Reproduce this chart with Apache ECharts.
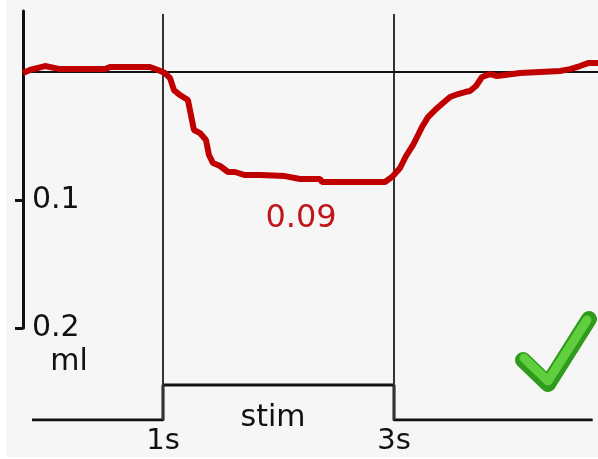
<!DOCTYPE html>
<html>
<head>
<meta charset="utf-8">
<script src="https://cdn.jsdelivr.net/npm/echarts@6/dist/echarts.min.js"></script>
<style>
html,body{margin:0;padding:0;background:#ffffff;}
#c{width:598px;height:459px;}
</style>
</head>
<body>
<div id="c"></div>
<script>
// time (s) and volume change (ml, positive = downward)
var times = [-0.212,-0.152,-0.022,0.108,0.498,0.541,0.887,0.957,1.017,1.061,1.095,1.147,1.216,1.242,1.268,1.320,1.372,1.398,1.433,1.494,1.563,1.623,1.710,1.840,2.056,2.186,2.359,2.377,2.922,2.991,3.052,3.104,3.165,3.208,3.242,3.294,3.355,3.424,3.485,3.554,3.615,3.658,3.710,3.762,3.831,3.892,3.961,4.091,4.264,4.437,4.524,4.610,4.680,4.766];
var volumes = [0.0008,-0.0016,-0.0047,-0.0023,-0.0023,-0.0039,-0.0039,-0.0016,0.0008,0.0047,0.0141,0.0180,0.0219,0.0336,0.0453,0.0477,0.0531,0.0648,0.0711,0.0734,0.0781,0.0781,0.0805,0.0805,0.0813,0.0836,0.0836,0.0859,0.0859,0.0813,0.0750,0.0656,0.0570,0.0492,0.0430,0.0352,0.0297,0.0242,0.0195,0.0172,0.0156,0.0148,0.0109,0.0039,0.0016,0.0031,0.0023,0.0008,0,-0.0008,-0.0023,-0.0047,-0.0070,-0.0070];
var stimTimes = [-0.134, 1, 1, 3, 3, 4.72];
var stimLevels = [0, 0, 1, 1, 0, 0];
var stimMarks = [1, 3];
var yTickValues = [0.1, 0.2];
var peakLabel = '0.09';
var unitLabel = 'ml';
var stimLabel = 'stim';

var FONT = 'DejaVu Sans';
var chart = echarts.init(document.getElementById('c'), null, {renderer: 'canvas'});

var redData = times.map(function (t, i) { return [t, volumes[i]]; });
var stimData = stimTimes.map(function (t, i) { return [t, stimLevels[i]]; });

chart.setOption({
  backgroundColor: '#ffffff',
  animation: false,
  grid: [
    {left: 23, right: 0, top: 11, bottom: 131},
    {left: 23, right: 0, top: 14, bottom: 39}
  ],
  xAxis: [
    {gridIndex: 0, type: 'value', min: -0.212, max: 4.766, show: false},
    {gridIndex: 1, type: 'value', min: -0.212, max: 4.766,
      axisLine: {show: false, onZero: false}, axisTick: {show: false}, splitLine: {show: false},
      axisLabel: {customValues: stimMarks, formatter: '{value}s', fontFamily: FONT, fontSize: 29, color: '#111', margin: 7}}
  ],
  yAxis: [
    {gridIndex: 0, type: 'value', inverse: true, min: -0.0477, max: 0.2,
      axisLine: {show: true, onZero: false, lineStyle: {color: '#111', width: 3}},
      axisTick: {show: true, inside: false, length: 8, customValues: yTickValues, lineStyle: {color: '#111', width: 3}},
      axisLabel: {show: true, inside: true, customValues: yTickValues, margin: 9, fontFamily: FONT, fontSize: 30, color: '#111',
        formatter: function (v) { return String(v); }},
      splitLine: {show: false}},
    {gridIndex: 1, type: 'value', min: 0, max: 11.6, show: false}
  ],
  graphic: [
    {type: 'rect', z: -10, silent: true, shape: {x: 6, y: 0, width: 592, height: 457}, style: {fill: '#f6f6f6'}},
    {type: 'text', x: 69, y: 362, style: {text: unitLabel, font: '30px "DejaVu Sans"', fill: '#111', textAlign: 'center', textVerticalAlign: 'middle'}},
    {type: 'text', x: 273, y: 418, style: {text: stimLabel, font: '30px "DejaVu Sans"', fill: '#111', textAlign: 'center', textVerticalAlign: 'middle'}},
    {type: 'text', x: 301, y: 219, style: {text: peakLabel, font: '32px "DejaVu Sans"', fill: '#c0161b', textAlign: 'center', textVerticalAlign: 'middle'}},
    {type: 'polyline', z: 20, shape: {points: [[523, 360], [548, 384], [589, 319]]},
      style: {stroke: '#2f9a1c', lineWidth: 16, lineCap: 'round', lineJoin: 'round', fill: null}},
    {type: 'polyline', z: 21, shape: {points: [[524, 358], [548, 381], [587, 320]]},
      style: {stroke: '#5fcf3e', lineWidth: 9, lineCap: 'round', lineJoin: 'round', fill: null}}
  ],
  series: [
    {type: 'line', xAxisIndex: 1, yAxisIndex: 1, data: stimData, showSymbol: false, symbol: 'none',
      lineStyle: {color: '#111', width: 3}, z: 3,
      markLine: {silent: true, symbol: 'none', label: {show: false},
        lineStyle: {color: '#333', width: 2, type: 'solid'},
        data: stimMarks.map(function (m) { return {xAxis: m}; })}},
    {type: 'line', xAxisIndex: 0, yAxisIndex: 0, data: redData, showSymbol: false, symbol: 'none',
      lineStyle: {color: '#c00000', width: 6}, z: 5,
      markLine: {silent: true, symbol: 'none', label: {show: false},
        lineStyle: {color: '#111', width: 2, type: 'solid'},
        data: [{yAxis: 0}]}}
  ]
});
</script>
</body>
</html>
